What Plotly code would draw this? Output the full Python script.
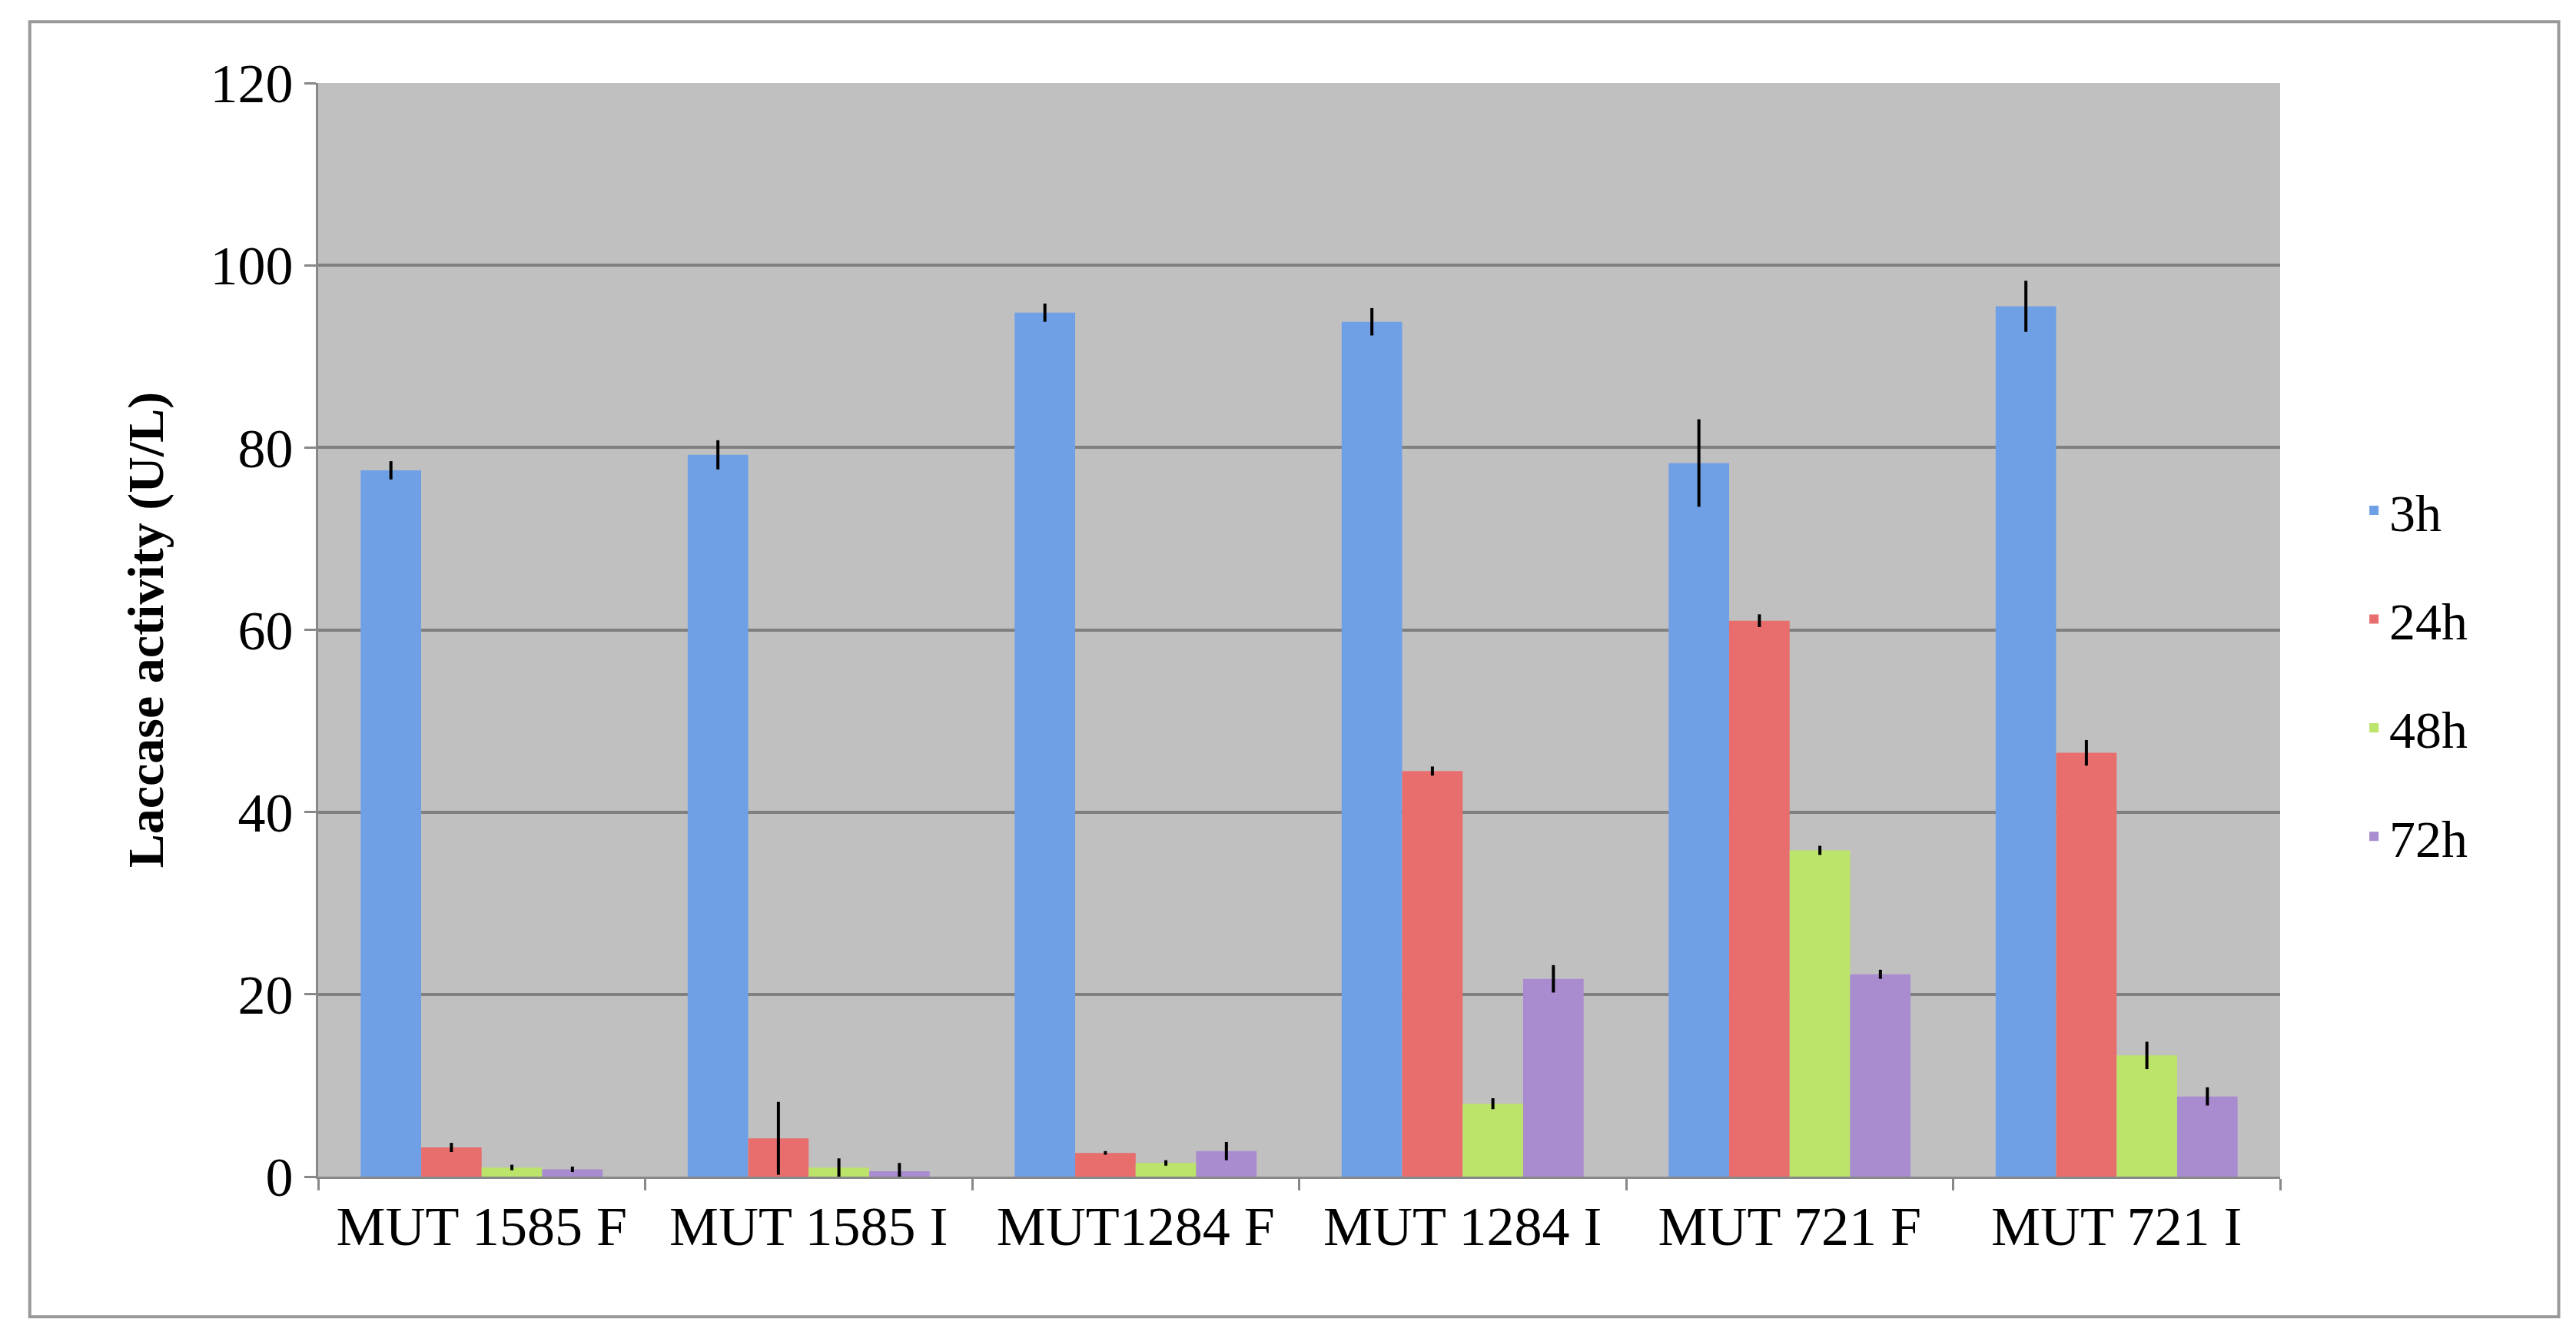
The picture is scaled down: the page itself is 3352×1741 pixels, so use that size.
import plotly.graph_objects as go

categories = ["MUT 1585 F", "MUT 1585 I", "MUT1284 F", "MUT 1284 I", "MUT 721 F", "MUT 721 I"]
series = ["3h", "24h", "48h", "72h"]
v3 = [77.5, 79.2, 94.8, 93.8, 78.3, 95.5]
e3 = [1.0, 1.6, 1.0, 1.5, 4.8, 2.8]
v24 = [3.2, 4.2, 2.6, 44.5, 61.0, 46.5]
e24 = [0.5, 4.0, 0.2, 0.5, 0.7, 1.4]
v48 = [1.0, 1.0, 1.5, 8.0, 35.8, 13.3]
e48 = [0.3, 1.0, 0.3, 0.6, 0.5, 1.5]
v72 = [0.8, 0.6, 2.8, 21.7, 22.2, 8.8]
e72 = [0.3, 0.9, 1.0, 1.5, 0.5, 1.0]
colors = ["#6fa0e6", "#e86e6e", "#bce36a", "#a98bd0"]

fig = go.Figure()
for name, v, e, c in zip(series, [v3, v24, v48, v72], [e3, e24, e48, e72], colors):
    fig.add_trace(go.Bar(x=categories, y=v, name=name, legendgroup=name,
                         marker=dict(color=c, line=dict(width=0)),
                         error_y=dict(type="data", array=e, color="black", thickness=4, width=0)))

font = "Liberation Serif"
fig.update_layout(
    barmode="group", bargap=0.26, bargroupgap=0,
    paper_bgcolor="white", plot_bgcolor="#c0c0c0",
    width=3352, height=1741,
    margin=dict(l=406, r=393, t=100, b=218),
    font=dict(family=font, size=72, color="black"),
    legend=dict(x=1.04, y=0.46, yanchor="middle", xanchor="left", font=dict(size=68),
                bgcolor="rgba(0,0,0,0)", tracegroupgap=50, itemwidth=30),
    xaxis=dict(showline=True, linecolor="#888", linewidth=3, ticks="outside", tickson="boundaries",
               ticklen=15, tickwidth=3, tickcolor="#888", tickfont=dict(size=72)),
    yaxis=dict(range=[0, 120], dtick=20, showgrid=True, gridcolor="#808080", gridwidth=4,
               showline=True, linecolor="#888", linewidth=3, ticks="outside", ticklen=15,
               tickwidth=3, tickcolor="#888", zeroline=False, tickfont=dict(size=72),
               title=dict(text="<b>Laccase activity (U/L)</b>", font=dict(size=66), standoff=40)),
    shapes=[dict(type="rect", xref="paper", yref="paper", x0=-0.147, x1=1.142, y0=-0.128, y1=1.056,
                 line=dict(color="#999", width=4), fillcolor="rgba(0,0,0,0)")],
)
fig.write_html("out.html")
